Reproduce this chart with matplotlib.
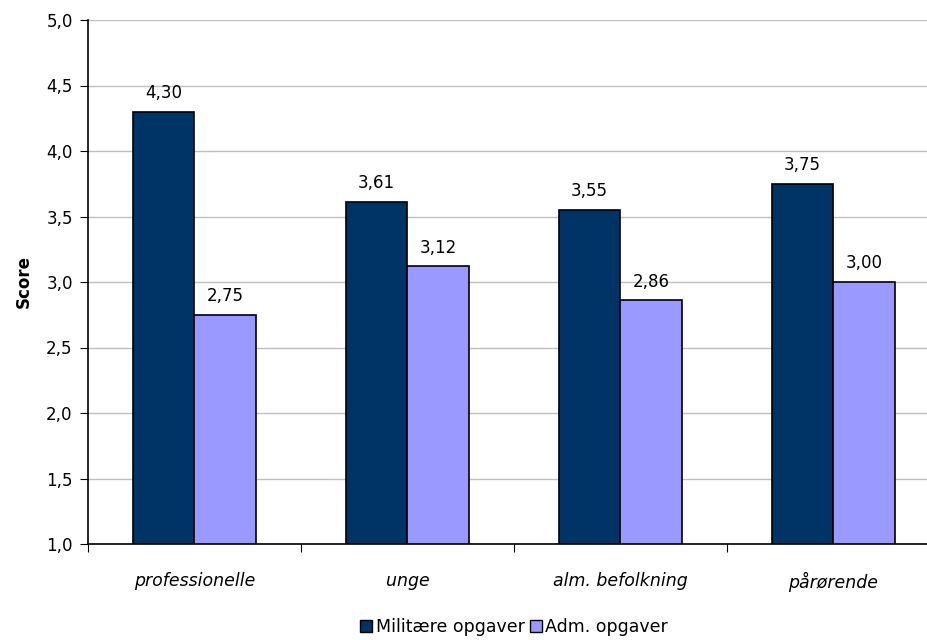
import matplotlib
matplotlib.use('Agg')
import matplotlib.pyplot as plt
import numpy as np
from matplotlib.patches import Patch

groups = ['professionelle', 'unge', 'alm. befolkning', 'pårørende']
militaere = [4.30, 3.61, 3.55, 3.75]
adm = [2.75, 3.12, 2.86, 3.00]
series_names = ['Militære opgaver', 'Adm. opgaver']

fig = plt.figure(figsize=(9.28, 6.4), dpi=100)
ax = fig.add_axes([88/928, 96/640, 852/928, 524/640])

x = np.arange(len(groups))
w = 0.29
ax.bar(x - w/2, np.array(militaere) - 1, w, bottom=1, color='#003366',
       edgecolor='black', linewidth=1.2, zorder=3)
ax.bar(x + w/2, np.array(adm) - 1, w, bottom=1, color='#9999ff',
       edgecolor='black', linewidth=1.2, zorder=3)

for xs, vals in ((x - w/2, militaere), (x + w/2, adm)):
    for xi, v in zip(xs, vals):
        ax.annotate(('%.2f' % v).replace('.', ','), (xi, v), xytext=(0, 7),
                    textcoords='offset points', ha='center', va='bottom',
                    fontsize=12)

ax.set_ylim(1.0, 5.0)
ax.set_xlim(-0.5, len(groups) - 0.5)
yt = np.arange(1.0, 5.01, 0.5)
ax.set_yticks(yt)
ax.set_yticklabels([('%.1f' % t).replace('.', ',') for t in yt], fontsize=12)
ax.yaxis.grid(True, color='#c0c0c0', linewidth=1, zorder=0)

# category boundaries carry the tick marks, names sit between them
ax.set_xticks(np.arange(-0.5, len(groups), 1.0))
ax.set_xticklabels([])
ax.set_xticks(x, minor=True)
ax.set_xticklabels(groups, minor=True, fontsize=12.5, style='italic')
ax.tick_params(axis='x', which='minor', length=0, pad=20)
ax.tick_params(axis='x', which='major', length=6, direction='out')
ax.tick_params(axis='y', length=6, direction='out', pad=5)

for s in ('top', 'right'):
    ax.spines[s].set_visible(False)
ax.spines['left'].set_linewidth(1.2)
ax.spines['bottom'].set_linewidth(1.2)

ax.set_ylabel('Score', fontsize=12, fontweight='bold', labelpad=10)

handles = [Patch(facecolor='#003366', edgecolor='black'),
           Patch(facecolor='#9999ff', edgecolor='black')]
fig.legend(handles, series_names, loc='center', bbox_to_anchor=(514/928, 1 - 627/640),
           ncol=2, frameon=False, prop={'size': 12.5},
           handlelength=0.7, handleheight=0.7, handletextpad=0.2, columnspacing=0.3)

fig.savefig('out.png', dpi=100)
